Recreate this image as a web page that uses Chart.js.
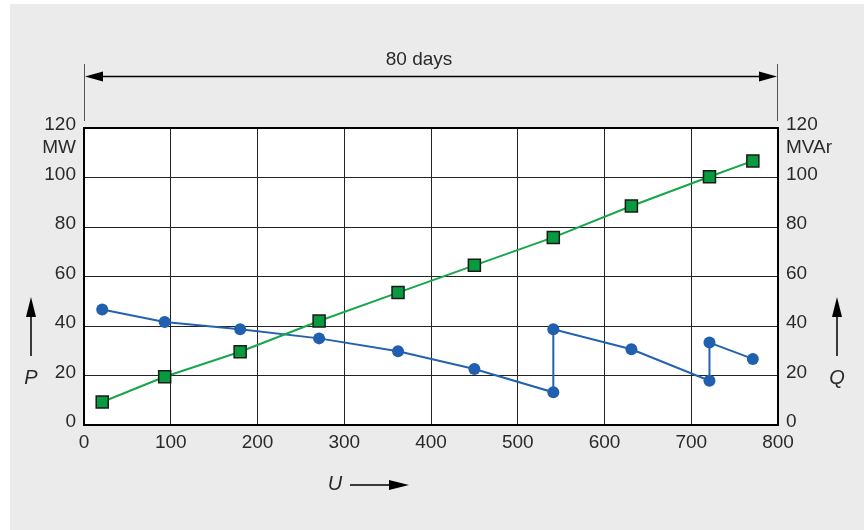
<!DOCTYPE html>
<html>
<head>
<meta charset="utf-8">
<script src="https://cdn.jsdelivr.net/npm/chart.js@4.4.0/dist/chart.umd.min.js"></script>
<style>
  body { margin: 0; background: #fff; }
  #wrap { width: 864px; height: 530px; }
</style>
</head>
<body>
<div id="wrap"><canvas id="chart" width="864" height="530"></canvas></div>
<script>
// U values (x) for both curves
const pU = [21, 93, 180, 271, 362, 450, 541, 631, 721, 771];
const pValues = [9.3, 19.5, 29.6, 42.0, 53.5, 64.5, 75.8, 88.5, 100.3, 106.7];

const qU = [21, 93, 180, 271, 362, 450, 541, 541, 631, 721, 721, 771];
const qValues = [46.7, 41.6, 38.7, 35.0, 29.8, 22.6, 13.2, 38.7, 30.6, 17.9, 33.3, 26.7];

const xTicks = [0, 100, 200, 300, 400, 500, 600, 700, 800];
const yTicks = [0, 20, 40, 60, 80, 100, 120];

const FONT = '"Liberation Sans", Arial, sans-serif';
const TXT = '#2a2a2a';

function toPoints(xs, ys) {
  return xs.map((x, i) => ({ x: x, y: ys[i] }));
}

function arrowHead(ctx, x, y, dir, len, half) {
  // dir: 'l','r','u'
  ctx.beginPath();
  if (dir === 'r') { ctx.moveTo(x, y); ctx.lineTo(x - len, y - half); ctx.lineTo(x - len, y + half); }
  if (dir === 'l') { ctx.moveTo(x, y); ctx.lineTo(x + len, y - half); ctx.lineTo(x + len, y + half); }
  if (dir === 'u') { ctx.moveTo(x, y); ctx.lineTo(x - half, y + len); ctx.lineTo(x + half, y + len); }
  ctx.closePath();
  ctx.fill();
}

const decor = {
  id: 'decor',
  beforeDraw(chart) {
    const ctx = chart.ctx;
    const a = chart.chartArea;
    ctx.save();
    ctx.fillStyle = '#fff';
    ctx.fillRect(0, 0, chart.width, chart.height);
    ctx.fillStyle = '#ebebeb';
    ctx.fillRect(10, 4, chart.width - 10, chart.height - 4);
    ctx.fillStyle = '#fff';
    ctx.fillRect(a.left, a.top, a.right - a.left, a.bottom - a.top);
    ctx.restore();
  },
  beforeDatasetsDraw(chart) {
    const ctx = chart.ctx;
    const a = chart.chartArea;
    ctx.save();
    ctx.strokeStyle = '#000';
    ctx.lineWidth = 2;
    ctx.strokeRect(a.left, a.top, a.right - a.left, a.bottom - a.top);
    ctx.restore();
  },
  afterDraw(chart) {
    const ctx = chart.ctx;
    const a = chart.chartArea;
    ctx.save();
    // 80 days span
    ctx.strokeStyle = '#555';
    ctx.lineWidth = 1;
    ctx.beginPath();
    ctx.moveTo(a.left + 0.5, 64); ctx.lineTo(a.left + 0.5, 121);
    ctx.moveTo(a.right - 0.5, 64); ctx.lineTo(a.right - 0.5, 121);
    ctx.stroke();
    ctx.strokeStyle = '#000';
    ctx.lineWidth = 1.5;
    ctx.beginPath();
    ctx.moveTo(a.left + 10, 76.5); ctx.lineTo(a.right - 10, 76.5);
    ctx.stroke();
    ctx.fillStyle = '#000';
    arrowHead(ctx, a.left + 1, 76.5, 'l', 18, 5);
    arrowHead(ctx, a.right - 1, 76.5, 'r', 18, 5);

    ctx.fillStyle = TXT;
    ctx.font = '19px ' + FONT;
    ctx.textAlign = 'center';
    ctx.textBaseline = 'middle';
    ctx.fillText('80 days', (a.left + a.right) / 2 - 12, 60);

    // units
    ctx.textAlign = 'right';
    ctx.fillText('MW', a.left - 8, 148);
    ctx.textAlign = 'left';
    ctx.fillText('MVAr', a.right + 8, 148);

    // P, Q and U arrows
    ctx.strokeStyle = '#000';
    ctx.lineWidth = 1.5;
    ctx.beginPath();
    ctx.moveTo(31, 356); ctx.lineTo(31, 310);
    ctx.moveTo(837, 356); ctx.lineTo(837, 310);
    ctx.moveTo(350, 485); ctx.lineTo(392, 485);
    ctx.stroke();
    ctx.fillStyle = '#000';
    arrowHead(ctx, 31, 297, 'u', 20, 5);
    arrowHead(ctx, 837, 297, 'u', 20, 5);
    arrowHead(ctx, 409, 485, 'r', 20, 5);

    ctx.fillStyle = TXT;
    ctx.font = 'italic 20px ' + FONT;
    ctx.textAlign = 'center';
    ctx.fillText('P', 31, 378);
    ctx.fillText('Q', 837, 378);
    ctx.fillText('U', 335, 484);
    ctx.restore();
  }
};

const tickFont = { family: FONT, size: 19 };

new Chart(document.getElementById('chart'), {
  type: 'scatter',
  data: {
    datasets: [
      {
        label: 'P',
        data: toPoints(pU, pValues),
        showLine: true,
        yAxisID: 'y',
        borderColor: '#17a64a',
        borderWidth: 2,
        pointStyle: 'rect',
        pointRadius: 8.5,
        pointBackgroundColor: '#079a3e',
        pointBorderColor: '#1a1a1a',
        pointBorderWidth: 1.5
      },
      {
        label: 'Q',
        data: toPoints(qU, qValues),
        showLine: true,
        yAxisID: 'y2',
        borderColor: '#2262ae',
        borderWidth: 2,
        pointStyle: 'circle',
        pointRadius: 6,
        pointBackgroundColor: '#2060ae',
        pointBorderColor: '#2060ae',
        pointBorderWidth: 0
      }
    ]
  },
  options: {
    responsive: false,
    animation: false,
    layout: { padding: { top: 128, left: 0, right: 0, bottom: 0 } },
    plugins: { legend: { display: false }, tooltip: { enabled: false } },
    scales: {
      x: {
        type: 'linear',
        min: 0, max: 800,
        afterBuildTicks: s => { s.ticks = xTicks.map(v => ({ value: v })); },
        afterFit: s => { s.height = 105; },
        grid: { color: '#222', lineWidth: 1, drawTicks: false },
        border: { display: false },
        ticks: { font: tickFont, color: TXT, padding: 6, maxRotation: 0, autoSkip: false }
      },
      y: {
        position: 'left',
        min: 0, max: 120,
        afterBuildTicks: s => { s.ticks = yTicks.map(v => ({ value: v })); },
        afterFit: s => { s.width = 84; },
        grid: { color: '#222', lineWidth: 1, drawTicks: false },
        border: { display: false },
        ticks: { font: tickFont, color: TXT, padding: 8, labelOffset: -3 }
      },
      y2: {
        position: 'right',
        min: 0, max: 120,
        afterBuildTicks: s => { s.ticks = yTicks.map(v => ({ value: v })); },
        afterFit: s => { s.width = 86; },
        grid: { display: false, drawTicks: false },
        border: { display: false },
        ticks: { font: tickFont, color: TXT, padding: 8, labelOffset: -3 }
      }
    }
  },
  plugins: [decor]
});
</script>
</body>
</html>
